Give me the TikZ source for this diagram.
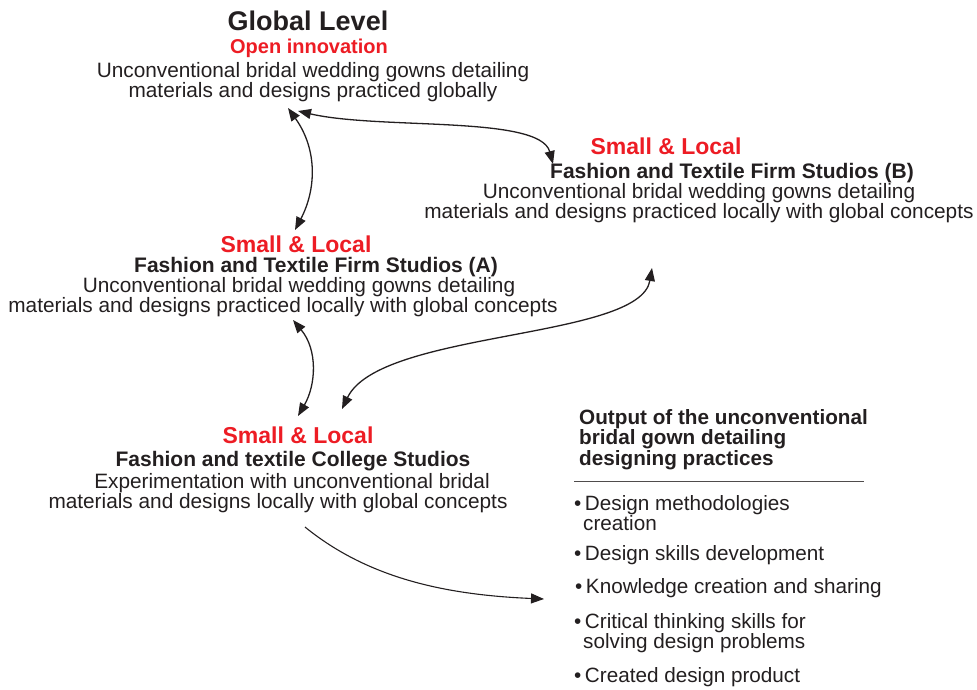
\documentclass[tikz,border=0pt]{standalone}
\usepackage{fontspec}
\setmainfont{Liberation Sans}
\usetikzlibrary{arrows.meta}
\definecolor{ink}{HTML}{231F20}
\definecolor{redhd}{HTML}{ED1C24}
\begin{document}
\begin{tikzpicture}[x=1pt,y=-1pt,
  txt/.style={font=\fontsize{20.8}{20}\selectfont, text=ink, inner sep=0pt, anchor=base},
  redhead/.style={font=\fontsize{23}{23}\selectfont\bfseries, text=redhd, inner sep=0pt, anchor=base},
  subhead/.style={font=\fontsize{21}{21}\selectfont\bfseries, text=ink, inner sep=0pt, anchor=base},
  outhead/.style={font=\fontsize{20.7}{19}\selectfont\bfseries, text=ink, inner sep=0pt, anchor=base west, align=left},
  bul/.style={font=\fontsize{20.7}{20}\selectfont, text=ink, inner sep=0pt, anchor=base west, align=left},
  link/.style={draw=ink, line width=1.3pt, {Triangle[length=13pt,width=10pt]}-{Triangle[length=13pt,width=10pt]}},
  onelink/.style={draw=ink, line width=1.1pt, -{Triangle[length=13pt,width=10pt]}},
]
\useasboundingbox (0,0) rectangle (977,689);

% Global level
\node[font=\fontsize{27}{27}\selectfont\bfseries, text=ink, inner sep=0pt, anchor=base] (gtitle) at (308,30) {Global Level};
\node[font=\fontsize{20}{20}\selectfont\bfseries, text=redhd, inner sep=0pt, anchor=base] (gopen) at (309,53) {Open innovation};
\node[txt] (gl1) at (313,77) {Unconventional bridal wedding gowns detailing};
\node[txt] (gl2) at (313,97) {materials and designs practiced globally};

% Studio B
\node[redhead] (bsl) at (666,154) {Small \& Local};
\node[subhead] (bfs) at (732,178) {Fashion and Textile Firm Studios (B)};
\node[txt] (bl1) at (699,198) {Unconventional bridal wedding gowns detailing};
\node[txt] (bl2) at (699,218) {materials and designs practiced locally with global concepts};

% Studio A
\node[redhead] (asl) at (296,252) {Small \& Local};
\node[subhead] (afs) at (316,272) {Fashion and Textile Firm Studios (A)};
\node[txt] (al1) at (299,292) {Unconventional bridal wedding gowns detailing};
\node[txt] (al2) at (283,312) {materials and designs practiced locally with global concepts};

% College
\node[redhead] (csl) at (298,443) {Small \& Local};
\node[subhead] (cfs) at (293,466) {Fashion and textile College Studios};
\node[txt] (cl1) at (292,488) {Experimentation with unconventional bridal};
\node[txt] (cl2) at (278,508) {materials and designs locally with global concepts};

% Output
\node[outhead] (oh) at (579,465) {Output of the unconventional\\bridal gown detailing\\designing practices};
\coordinate (rulel) at (574,481);
\coordinate (ruler) at (864,481);
\draw[ink!80, line width=0.9pt] (rulel) -- (ruler);
\node[bul] (b1) at (574,530) {•\hspace{3.5pt}Design methodologies\\\hspace*{9pt}creation};
\node[bul] (b2) at (574,560) {•\hspace{3.5pt}Design skills development};
\node[bul] (b3) at (575,593) {•\hspace{3.5pt}Knowledge creation and sharing};
\node[bul] (b4) at (574,648) {•\hspace{3.5pt}Critical thinking skills for\\\hspace*{9pt}solving design problems};
\node[bul] (b5) at (574,682) {•\hspace{3.5pt}Created design product};

% connector end points
\coordinate (gA) at (288,108);
\coordinate (Ag) at (295,230);
\coordinate (gB) at (298,111);
\coordinate (Bg) at (553,164);
\coordinate (Ac) at (293,320);
\coordinate (cA) at (298,416);
\coordinate (cB) at (342,409);
\coordinate (Bc) at (652,268);
\coordinate (co) at (305,527);
\coordinate (oc) at (544,599);

\draw[link] (gA) .. controls (318,150) and (316,190) .. (Ag);
\draw[link] (gB) .. controls (380,130) and (540,115) .. (Bg);
\draw[link] (Ac) .. controls (318,350) and (316,385) .. (cA);
\draw[link] (cB) .. controls (380,330) and (640,340) .. (Bc);
\draw[onelink] (co) .. controls (370,580) and (450,595) .. (oc);
\end{tikzpicture}
\end{document}
